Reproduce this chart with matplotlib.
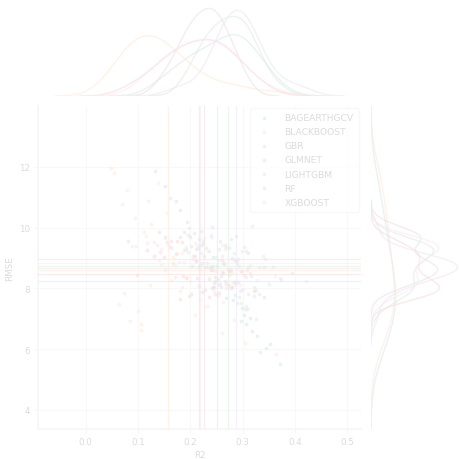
import matplotlib
matplotlib.use("Agg")
import matplotlib.pyplot as plt
from matplotlib.patches import Rectangle
import seaborn as sns
import numpy as np

# ---------------- data ----------------
models = ["BAGEARTHGCV", "BLACKBOOST", "GBR", "GLMNET", "LIGHTGBM", "RF", "XGBOOST"]

bagearth_r2 = [0.248,0.172,0.309,0.221,0.296,0.277,0.193,0.327,0.238,0.344,0.207,0.268,0.302,0.151,0.289,0.259,0.226,0.334,
               0.198,0.286,0.318,0.181,0.273,0.352,0.243,0.371,0.216,0.281,0.133,0.314,0.262,0.298,0.211,0.254,0.306,0.162]
bagearth_rmse = [8.23,10.87,7.31,9.42,6.94,8.02,10.19,6.43,8.71,6.04,9.83,7.68,7.12,11.38,7.53,8.41,9.08,5.92,
                 9.97,7.79,6.61,10.58,8.57,6.18,9.02,5.51,9.64,7.62,11.87,7.04,8.49,7.37,9.31,8.13,6.83,10.96]

blackboost_r2 = [0.130,0.079,0.185,0.095,0.231,0.141,0.069,0.163,0.049,0.116,0.208,0.106,0.151,0.064,0.260,0.125,0.085,0.174,
                 0.138,0.074,0.193,0.111,0.304,0.100,0.155,0.123,0.055,0.219,0.166,0.105,0.363,0.144,0.120,0.180,0.088,0.283]
blackboost_rmse = [9.53,11.24,8.03,10.31,7.42,8.94,10.78,8.27,11.96,9.71,7.13,6.82,8.61,7.48,6.54,10.12,6.93,9.18,
                   11.47,7.84,8.36,9.87,6.21,7.24,10.49,8.12,11.78,7.66,9.03,6.63,5.84,8.79,10.86,7.92,9.41,6.95]

gbr_r2 = [0.215,0.304,0.266,0.251,0.374,0.285,0.225,0.299,0.235,0.321,0.278,0.187,0.259,0.340,0.244,0.307,0.273,0.220,
          0.297,0.254,0.316,0.201,0.331,0.287,0.239,0.268,0.350,0.230,0.292,0.263,0.326,0.302,0.211,0.283,0.311,0.249]
gbr_rmse = [9.33,7.32,9.43,8.72,8.28,8.15,9.57,7.95,9.24,8.04,9.63,9.26,8.04,8.69,8.74,9.23,8.45,9.16,
            7.53,9.28,8.40,9.39,7.81,9.73,8.60,9.36,8.13,9.32,7.72,8.84,7.95,9.37,8.89,9.16,7.82,9.04]

glmnet_r2 = [0.245,0.081,0.291,0.202,0.239,0.161,0.279,0.149,0.248,0.174,0.322,0.217,0.130,0.260,0.198,0.298,0.186,0.229,
             0.099,0.267,0.211,0.242,0.155,0.341,0.180,0.285,0.205,0.254,0.118,0.223,0.167,0.310,0.192,0.273,0.143,0.236]
glmnet_rmse = [8.06,9.57,8.22,7.83,8.70,9.35,8.06,9.02,7.83,9.56,7.91,8.09,9.06,8.92,7.74,8.58,8.40,8.69,
               8.44,8.23,8.89,8.02,9.54,7.71,7.66,8.20,9.08,7.85,9.25,7.89,8.85,9.18,8.34,8.12,9.19,7.72]

lightgbm_r2 = [0.302,0.264,0.338,0.281,0.243,0.317,0.293,0.372,0.252,0.326,0.276,0.195,0.306,0.358,0.268,0.291,0.395,0.222,
               0.314,0.283,0.257,0.331,0.298,0.170,0.289,0.322,0.261,0.420,0.278,0.239,0.311,0.294,0.343,0.249,0.307,0.273]
lightgbm_rmse = [8.45,8.79,9.05,8.21,8.62,10.05,8.74,8.33,8.92,6.98,8.65,9.19,8.39,8.71,8.02,8.96,8.51,8.84,
                 8.49,8.94,8.12,8.71,9.22,8.36,8.83,7.74,9.08,8.24,8.61,9.68,8.69,7.91,8.97,8.58,7.41,9.34]

rf_r2 = [0.240,0.180,0.264,0.212,0.288,0.196,0.232,0.164,0.252,0.220,0.272,0.204,0.308,0.188,0.244,0.224,0.260,0.152,
         0.236,0.208,0.280,0.216,0.256,0.172,0.228,0.296,0.200,0.248,0.184,0.268,0.192,0.242,0.218,0.276,0.140,0.246]
rf_rmse = [8.60,9.69,8.84,8.34,8.91,9.76,8.82,9.57,8.31,9.88,8.62,8.72,8.61,9.86,8.03,9.47,8.53,9.70,
           8.30,9.08,9.01,8.70,9.55,9.14,7.96,8.58,9.68,8.39,9.53,8.15,9.31,10.02,8.77,8.57,9.86,8.18]

xgboost_r2 = [0.185,0.273,0.233,0.131,0.260,0.294,0.205,0.246,0.158,0.328,0.212,0.171,0.239,0.301,0.117,0.280,0.192,0.253,
              0.144,0.219,0.267,0.178,0.314,0.199,0.097,0.226,0.287,0.165,0.256,0.151,0.236,0.362,0.188,0.209,0.263,0.137]
xgboost_rmse = [9.15,8.01,9.24,9.04,9.42,8.12,8.96,7.93,9.42,8.27,9.43,8.76,9.76,7.99,9.50,8.53,9.37,7.75,
                9.28,8.60,9.29,8.88,8.78,8.24,9.39,9.67,8.20,9.34,8.14,9.65,8.33,8.40,8.86,9.50,7.56,9.44]

# mean lines
r2_means = [0.250, 0.157, 0.271, 0.217, 0.287, 0.226, 0.219]
rmse_means = [8.25, 8.60, 8.72, 8.47, 8.66, 8.97, 8.85]

xticks = [0.0, 0.1, 0.2, 0.3, 0.4, 0.5]
yticks = [4, 6, 8, 10, 12]

r2_data = [bagearth_r2, blackboost_r2, gbr_r2, glmnet_r2, lightgbm_r2, rf_r2, xgboost_r2]
rmse_data = [bagearth_rmse, blackboost_rmse, gbr_rmse, glmnet_rmse, lightgbm_rmse, rf_rmse, xgboost_rmse]

# ---------------- drawing ----------------
sns.set_theme(style="whitegrid")
plt.rcParams["font.family"] = ["DejaVu Sans"]
colors = sns.color_palette("tab10", len(models))

W = H = 460
fig = plt.figure(figsize=(4.6, 4.6), dpi=100)

def px_axes(l, t, r, b):
    return fig.add_axes([l / W, 1 - b / H, (r - l) / W, (b - t) / H])

ax = px_axes(38, 107, 361, 429.5)
ax_top = px_axes(38, 5, 361, 97)
ax_right = px_axes(371, 107, 462, 429.5)

for i, m in enumerate(models):
    ax.scatter(r2_data[i], rmse_data[i], s=7, color=colors[i], linewidths=0,
               alpha=0.55, label=m, zorder=2)
for i, m in enumerate(models):
    ax.axvline(r2_means[i], color=colors[i], lw=0.9, alpha=0.55, zorder=3)
    ax.axhline(rmse_means[i], color=colors[i], lw=0.9, alpha=0.55, zorder=3)

ax.set_xlim(-0.091, 0.526)
ax.set_ylim(3.39, 14.0)
ax.set_xticks(xticks)
ax.set_xticklabels([f"{v:.1f}" for v in xticks])
ax.set_yticks(yticks)
ax.set_xlabel("R2", fontsize=6.3, labelpad=3)
ax.set_ylabel("RMSE", fontsize=6.3, labelpad=3)
ax.tick_params(labelsize=6.3, length=3, width=0.8, color="0.8", left=True, bottom=True, pad=3)
ax.grid(True, color="0.85", lw=0.8)
for s in ["top", "right"]:
    ax.spines[s].set_visible(False)
for s in ["left", "bottom"]:
    ax.spines[s].set_color("0.8")

leg = ax.legend(loc="upper right", fontsize=6.6, frameon=True, borderaxespad=0.2,
                handletextpad=1.2, labelspacing=0.55, borderpad=0.6, markerscale=1.0)
leg.get_frame().set_edgecolor("0.8")
leg.set_zorder(5)

for i, m in enumerate(models):
    sns.kdeplot(x=r2_data[i], ax=ax_top, color=colors[i], lw=1.0, alpha=0.6, fill=False)
    sns.kdeplot(y=rmse_data[i], ax=ax_right, color=colors[i], lw=1.0, alpha=0.6, fill=False)

ax_top.set_xlim(ax.get_xlim())
ax_right.set_ylim(ax.get_ylim())
ax_top.set_ylim(bottom=0)
ax_right.set_xlim(left=0)
for a in (ax_top, ax_right):
    a.set_axis_off()

# the reference is drawn very faded: white veil over the whole figure
fig.add_artist(Rectangle((0, 0), 1, 1, transform=fig.transFigure, facecolor="white",
                         edgecolor="none", alpha=0.84, zorder=1000))

fig.savefig("out.png", dpi=100)
